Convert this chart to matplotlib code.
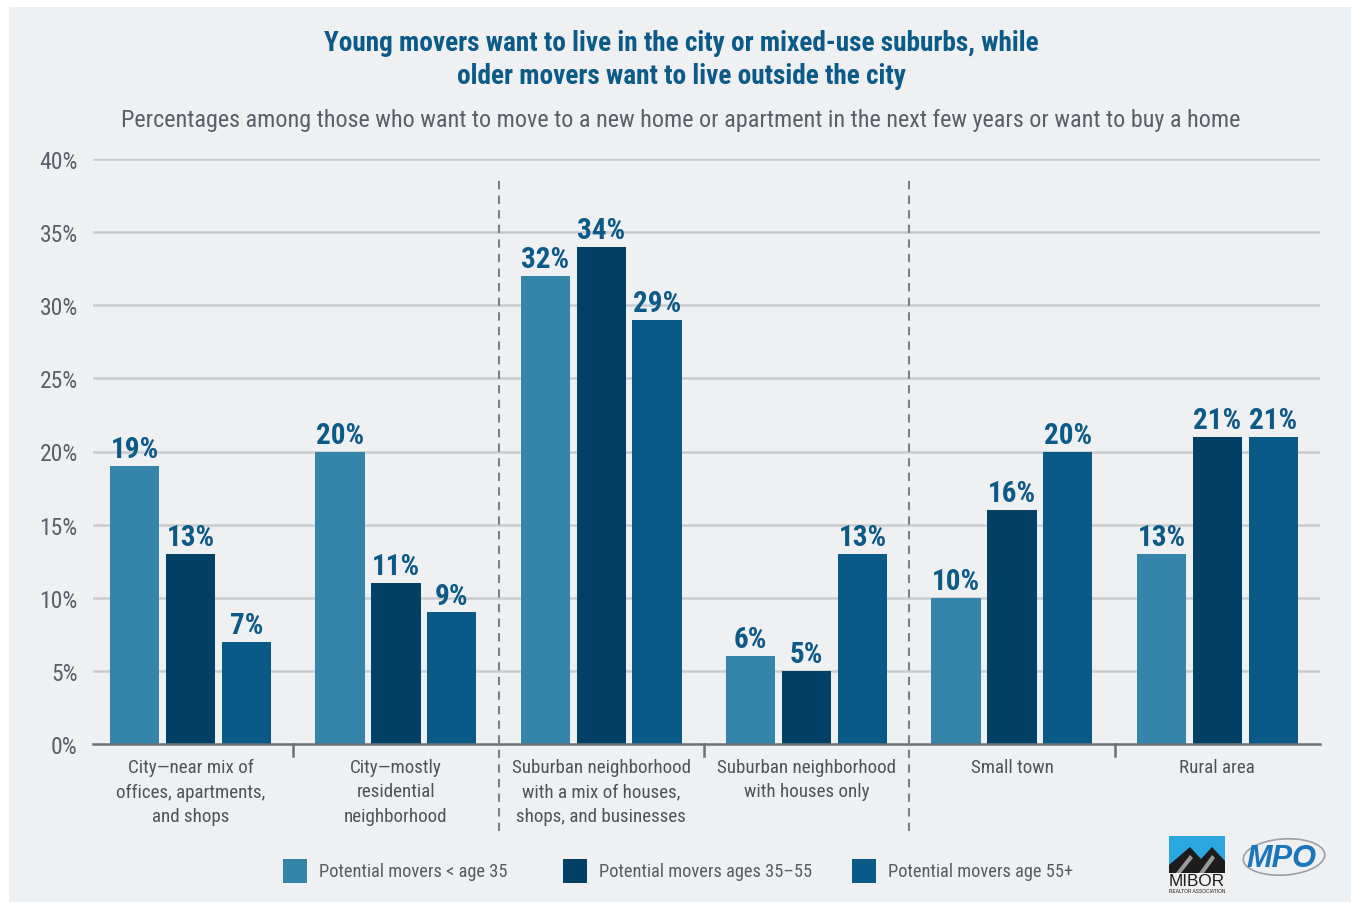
import matplotlib
matplotlib.use("Agg")
import matplotlib.pyplot as plt
import matplotlib.transforms as mtransforms
from matplotlib.patches import Rectangle, Polygon, Ellipse

categories = [
    "City\u2014near mix of\noffices, apartments,\nand shops",
    "City\u2014mostly\nresidential\nneighborhood",
    "Suburban neighborhood\nwith a mix of houses,\nshops, and businesses",
    "Suburban neighborhood\nwith houses only",
    "Small town",
    "Rural area",
]
series_names = [
    "Potential movers < age 35",
    "Potential movers ages 35\u201355",
    "Potential movers age 55+",
]
under_35 = [19, 20, 32, 6, 10, 13]
ages_35_55 = [13, 11, 34, 5, 16, 21]
age_55_plus = [7, 9, 29, 13, 20, 21]
y_ticks = [0, 5, 10, 15, 20, 25, 30, 35, 40]
y_tick_labels = [f"{v}%" for v in y_ticks]

title = ("Young movers want to live in the city or mixed-use suburbs, while\n"
         "older movers want to live outside the city")
subtitle = ("Percentages among those who want to move to a new home or apartment "
            "in the next few years or want to buy a home")

colors = ["#3584aa", "#034066", "#0a5a88"]
label_color = "#0c5a87"
text_gray = "#555c64"

# condensed faces first if present, then the narrowest common ones
plt.rcParams["font.family"] = ["Liberation Sans Narrow", "Roboto Condensed",
                               "Arial Narrow", "Roboto", "DejaVu Sans"]

W, H = 1351, 903
fig = plt.figure(figsize=(W / 100, H / 100), dpi=100, facecolor="white")
renderer = fig.canvas.get_renderer()


def fx(x):
    return x / W


def fy(y):
    return 1 - y / H


def fit_size(s, target_px, weight="normal", base=20, cap=None, **kw):
    # font size that makes s about target_px wide
    t = fig.text(0, 0, s, fontsize=base, fontweight=weight, **kw)
    w = t.get_window_extent(renderer).width
    t.remove()
    size = base * target_px / w
    if cap is not None:
        size = min(size, cap)
    return size


title_size = fit_size(title.split("\n")[0], 715, "bold", cap=21)
sub_size = fit_size(subtitle, 1117, cap=18)
cat_size = fit_size("Suburban neighborhood", 178, cap=15)
legend_size = fit_size(series_names[1], 213, cap=15)
value_size = fit_size("34%", 48, "bold", cap=21)
tick_size = fit_size("40%", 41, cap=17)

# light grey panel
fig.patches.append(Rectangle((fx(9), fy(903)), fx(1351 - 9), (903 - 8) / H,
                             transform=fig.transFigure, facecolor="#eff0f2",
                             edgecolor="none", zorder=-10))

ax = fig.add_axes([fx(93), fy(745), (1320 - 93) / W, (745 - 160) / H])
ax.set_facecolor("none")

series = [under_35, ages_35_55, age_55_plus]
offsets = [-0.272, 0.0, 0.272]
xs = list(range(len(categories)))
for vals, off, col, name in zip(series, offsets, colors, series_names):
    pos = [x + off for x in xs]
    bars = ax.bar(pos, vals, width=0.24, color=col, label=name, zorder=3)
    for b, v in zip(bars, vals):
        ax.annotate(f"{v}%", (b.get_x() + b.get_width() / 2, v),
                    xytext=(0, 2), textcoords="offset points",
                    ha="center", va="bottom", fontsize=value_size,
                    fontweight="bold", color=label_color, zorder=4)

ax.set_xlim(-0.475, 5.5)
ax.set_ylim(0, 40)
ax.set_yticks(y_ticks)
ax.set_yticklabels(y_tick_labels, fontsize=tick_size, color="#58606a")
ax.tick_params(axis="y", length=0, pad=11)
ax.set_xticks([])
for y in y_ticks[1:]:
    ax.axhline(y, color="#c9cccf", lw=1.8, zorder=1)
for s in ["top", "right", "left"]:
    ax.spines[s].set_visible(False)
ax.spines["bottom"].set_color("#6b7177")
ax.spines["bottom"].set_linewidth(1.8)
ax.spines["bottom"].set_zorder(5)

trans = mtransforms.blended_transform_factory(ax.transData, ax.transAxes)
for xt in [0.5, 2.5, 4.5]:
    ax.plot([xt, xt], [0, -0.021], transform=trans, color="#6b7177",
            lw=1.8, clip_on=False)
for xt in [1.5, 3.5]:
    ax.plot([xt, xt], [0.962, -0.152], transform=trans, color="#7a8086",
            lw=1.5, linestyle=(0, (4, 3)), clip_on=False)

for x, cat in zip(xs, categories):
    ax.text(x, -0.024, cat, transform=trans, ha="center", va="top",
            fontsize=cat_size, color="#4d545c", linespacing=1.45)

fig.text(fx(681), fy(60), title, ha="center", va="center", fontsize=title_size,
         fontweight="bold", color=label_color, linespacing=1.3)
fig.text(fx(681), fy(121), subtitle, ha="center", va="center", fontsize=sub_size,
         color="#59606a")

# legend
for lx, col, name in zip([283, 563, 852], colors, series_names):
    fig.patches.append(Rectangle((fx(lx), fy(884)), 24 / W, 24 / H,
                                 transform=fig.transFigure, facecolor=col,
                                 edgecolor="none"))
    fig.text(fx(lx + 36), fy(872), name, ha="left", va="center",
             fontsize=legend_size, color=text_gray)

# MIBOR logo
fig.patches.append(Rectangle((fx(1169), fy(874)), 56 / W, 37 / H,
                             transform=fig.transFigure, facecolor="#2aa7df",
                             edgecolor="none"))
mountain = [(1169, 874), (1169, 866), (1190, 848), (1201, 860), (1212, 848),
            (1225, 862), (1225, 874)]
fig.patches.append(Polygon([(fx(a), fy(b)) for a, b in mountain],
                           transform=fig.transFigure, facecolor="#1c1c1c",
                           edgecolor="none"))
for pts in [[(1176, 874), (1190, 856), (1193, 859), (1181, 874)],
            [(1199, 874), (1212, 856), (1215, 859), (1204, 874)]]:
    fig.patches.append(Polygon([(fx(a), fy(b)) for a, b in pts],
                               transform=fig.transFigure, facecolor="#9a9a9a",
                               edgecolor="none"))
mibor_size = fit_size("MIBOR", 56, family="Liberation Sans")
fig.text(fx(1197), fy(882), "MIBOR", ha="center", va="center",
         fontsize=mibor_size, color="#1c1c1c", family="Liberation Sans")
fig.text(fx(1197), fy(892), "REALTOR ASSOCIATION", ha="center", va="center",
         fontsize=3.5, color="#1c1c1c", family="Liberation Sans")

# MPO logo
fig.patches.append(Ellipse((fx(1284), fy(858)), 82 / W, 36 / H, angle=8,
                           transform=fig.transFigure, facecolor="none",
                           edgecolor="#9aa0a6", lw=1.2))
mpo_size = fit_size("MPO", 70, "bold", family="Liberation Sans",
                    fontstyle="italic")
fig.text(fx(1281), fy(859), "MPO", ha="center", va="center", fontsize=mpo_size,
         fontweight="bold", fontstyle="italic", color="#1b75bb",
         family="Liberation Sans")

fig.savefig("out.png", dpi=100, facecolor=fig.get_facecolor())
